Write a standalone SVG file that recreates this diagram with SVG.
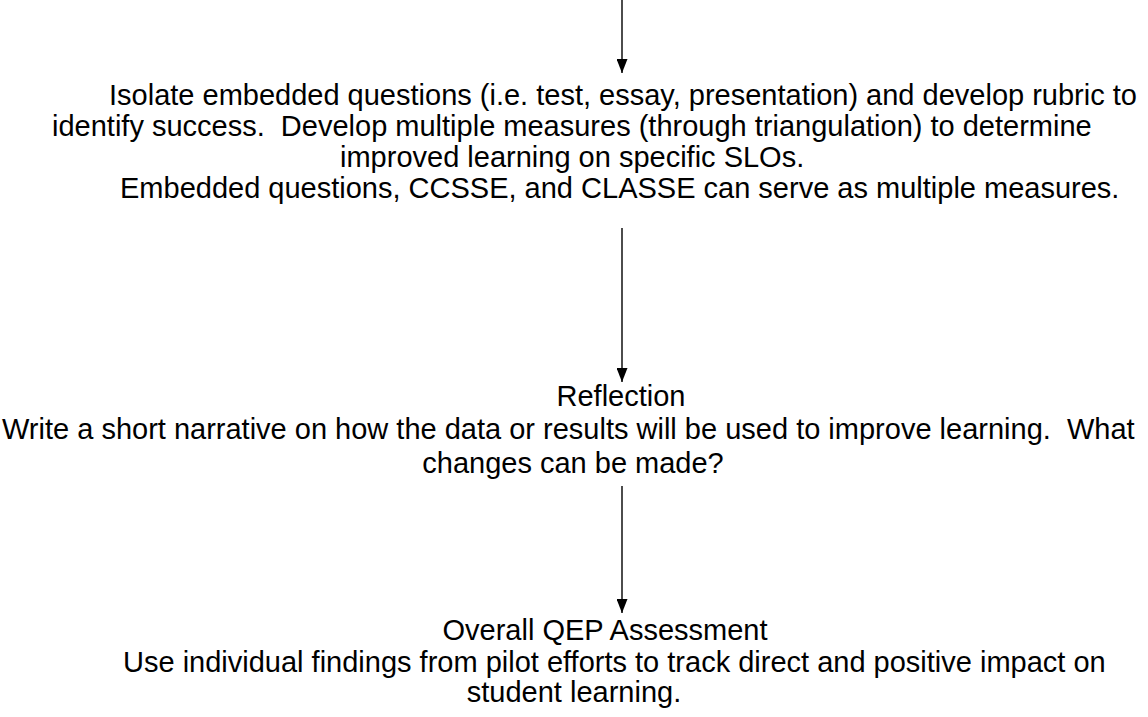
<svg xmlns="http://www.w3.org/2000/svg" width="1148" height="717" viewBox="0 0 1148 717">
  <style>
    .t { font-family: "Liberation Sans", Arial, sans-serif; font-size: 29px; fill: #000; }
    .link { stroke: #000; stroke-width: 1.4; fill: none; }
  </style>
  <defs>
    <!-- solid triangular head, drawn pointing along +x so orient="auto" turns it down the line -->
    <marker id="arrow" viewBox="0 0 14 11" refX="14" refY="5.5" markerWidth="14" markerHeight="11" markerUnits="userSpaceOnUse" orient="auto">
      <path d="M0,0 L14,5.5 L0,11 Z" fill="#000"/>
    </marker>
  </defs>
  <rect width="1148" height="717" fill="#fff"/>

  <!-- connectors between the steps -->
  <g id="connectors">
    <line class="link" x1="622" y1="0" x2="622" y2="73" marker-end="url(#arrow)"/>
    <line class="link" x1="622" y1="228" x2="622" y2="382" marker-end="url(#arrow)"/>
    <line class="link" x1="622" y1="486" x2="622" y2="613" marker-end="url(#arrow)"/>
  </g>

  <!-- step: embedded questions and multiple measures -->
  <g id="measures">
    <text class="t" x="109" y="105">Isolate embedded questions (i.e. test, essay, presentation) and develop rubric to</text>
    <text class="t" x="52" y="136" xml:space="preserve">identify success.  Develop multiple measures (through triangulation) to determine</text>
    <text class="t" x="340" y="167">improved learning on specific SLOs.</text>
    <text class="t" x="120" y="198">Embedded questions, CCSSE, and CLASSE can serve as multiple measures.</text>
  </g>

  <!-- step: reflection -->
  <g id="reflection">
    <text class="t" x="621" y="406" text-anchor="middle">Reflection</text>
    <text class="t" x="2" y="439" xml:space="preserve">Write a short narrative on how the data or results will be used to improve learning.  What</text>
    <text class="t" x="573" y="473" text-anchor="middle">changes can be made?</text>
  </g>

  <!-- step: overall QEP assessment -->
  <g id="qep">
    <text class="t" x="605" y="640" text-anchor="middle">Overall QEP Assessment</text>
    <text class="t" x="123" y="672">Use individual findings from pilot efforts to track direct and positive impact on</text>
    <text class="t" x="574" y="702" text-anchor="middle">student learning.</text>
  </g>
</svg>
